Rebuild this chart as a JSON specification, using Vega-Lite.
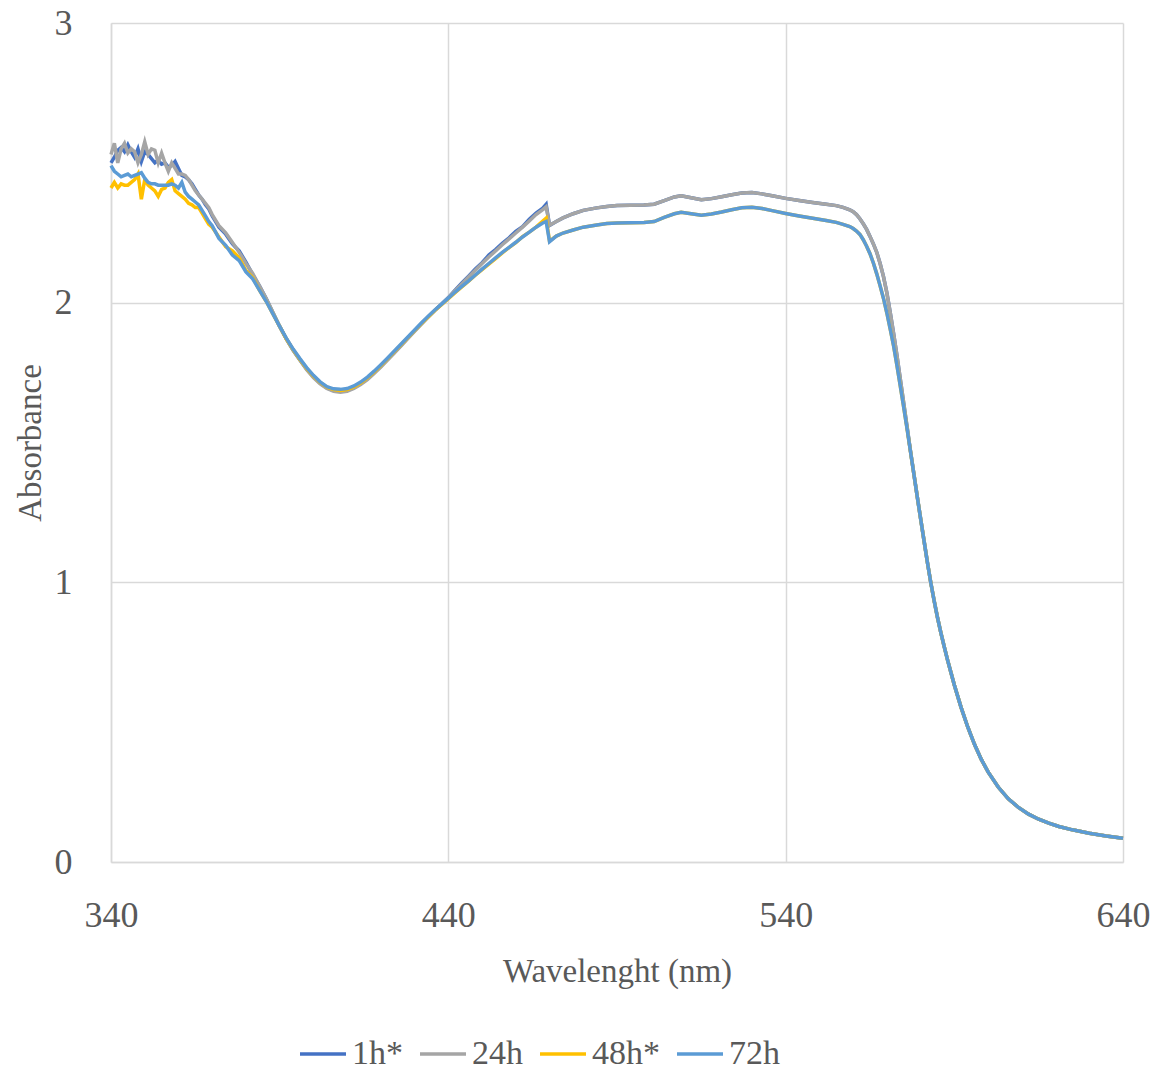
{
 "$schema": "https://vega.github.io/schema/vega-lite/v6.json",
 "width": 1012, "height": 839,
 "autosize": {"type": "none"},
 "padding": {"left": 111, "top": 23, "right": 38, "bottom": 213},
 "background": "white",
 "config": {"view": {"stroke": null}, "font": "Liberation Serif"},
 "data": {"values": [
  {"w":340,"1h*":2.50,"24h":2.53,"48h*":2.41,"72h":2.49},
  {"w":341,"1h*":2.52,"24h":2.57,"48h*":2.43,"72h":2.47},
  {"w":342,"1h*":2.545,"24h":2.50,"48h*":2.41,"72h":2.46},
  {"w":343,"1h*":2.555,"24h":2.55,"48h*":2.425,"72h":2.45},
  {"w":344,"1h*":2.54,"24h":2.57,"48h*":2.42,"72h":2.455},
  {"w":345,"1h*":2.565,"24h":2.535,"48h*":2.42,"72h":2.46},
  {"w":346,"1h*":2.54,"24h":2.55,"48h*":2.43,"72h":2.45},
  {"w":347,"1h*":2.52,"24h":2.54,"48h*":2.44,"72h":2.455},
  {"w":348,"1h*":2.55,"24h":2.50,"48h*":2.46,"72h":2.46},
  {"w":349,"1h*":2.505,"24h":2.53,"48h*":2.37,"72h":2.465},
  {"w":350,"1h*":2.54,"24h":2.575,"48h*":2.44,"72h":2.445},
  {"w":351,"1h*":2.53,"24h":2.53,"48h*":2.42,"72h":2.43},
  {"w":352,"1h*":2.515,"24h":2.55,"48h*":2.41,"72h":2.425},
  {"w":353,"1h*":2.50,"24h":2.545,"48h*":2.40,"72h":2.425},
  {"w":354,"1h*":2.51,"24h":2.50,"48h*":2.38,"72h":2.42},
  {"w":355,"1h*":2.495,"24h":2.535,"48h*":2.405,"72h":2.42},
  {"w":356,"1h*":2.50,"24h":2.50,"48h*":2.41,"72h":2.42},
  {"w":357,"1h*":2.485,"24h":2.47,"48h*":2.43,"72h":2.42},
  {"w":358,"1h*":2.49,"24h":2.50,"48h*":2.44,"72h":2.425},
  {"w":359,"1h*":2.505,"24h":2.48,"48h*":2.40,"72h":2.42},
  {"w":360,"1h*":2.48,"24h":2.46,"48h*":2.39,"72h":2.41},
  {"w":361,"1h*":2.455,"24h":2.46,"48h*":2.38,"72h":2.43},
  {"w":362,"1h*":2.45,"24h":2.455,"48h*":2.37,"72h":2.395},
  {"w":363,"1h*":2.44,"24h":2.44,"48h*":2.355,"72h":2.38},
  {"w":364,"1h*":2.425,"24h":2.42,"48h*":2.35,"72h":2.37},
  {"w":365,"1h*":2.405,"24h":2.40,"48h*":2.34,"72h":2.36},
  {"w":366,"1h*":2.385,"24h":2.385,"48h*":2.34,"72h":2.35},
  {"w":367,"1h*":2.37,"24h":2.37,"48h*":2.32,"72h":2.33},
  {"w":368,"1h*":2.35,"24h":2.355,"48h*":2.30,"72h":2.31},
  {"w":369,"1h*":2.335,"24h":2.34,"48h*":2.28,"72h":2.29},
  {"w":370,"1h*":2.31,"24h":2.315,"48h*":2.27,"72h":2.275},
  {"w":372,"1h*":2.27,"24h":2.275,"48h*":2.235,"72h":2.23},
  {"w":374,"1h*":2.245,"24h":2.25,"48h*":2.20,"72h":2.205},
  {"w":376,"1h*":2.21,"24h":2.215,"48h*":2.185,"72h":2.17},
  {"w":378,"1h*":2.185,"24h":2.18,"48h*":2.16,"72h":2.15},
  {"w":380,"1h*":2.145,"24h":2.14,"48h*":2.115,"72h":2.11},
  {"w":382,"1h*":2.10,"24h":2.105,"48h*":2.09,"72h":2.085},
  {"w":384,"1h*":2.06,"24h":2.06,"48h*":2.045,"72h":2.045},
  {"w":386,"1h*":2.015,"24h":2.015,"48h*":2.005,"72h":2.005},
  {"w":388,"1h*":1.965,"24h":1.965,"48h*":1.96,"72h":1.96},
  {"w":390,"1h*":1.915,"24h":1.915,"48h*":1.915,"72h":1.915},
  {"w":392,"1h*":1.87,"24h":1.87,"48h*":1.87,"72h":1.872},
  {"w":394,"1h*":1.83,"24h":1.83,"48h*":1.832,"72h":1.834},
  {"w":396,"1h*":1.795,"24h":1.795,"48h*":1.797,"72h":1.80},
  {"w":398,"1h*":1.762,"24h":1.76,"48h*":1.765,"72h":1.768},
  {"w":400,"1h*":1.735,"24h":1.732,"48h*":1.738,"72h":1.74},
  {"w":402,"1h*":1.712,"24h":1.71,"48h*":1.715,"72h":1.717},
  {"w":404,"1h*":1.695,"24h":1.693,"48h*":1.698,"72h":1.70},
  {"w":406,"1h*":1.686,"24h":1.683,"48h*":1.689,"72h":1.692},
  {"w":408,"1h*":1.683,"24h":1.68,"48h*":1.686,"72h":1.69},
  {"w":410,"1h*":1.686,"24h":1.683,"48h*":1.689,"72h":1.693},
  {"w":412,"1h*":1.696,"24h":1.693,"48h*":1.699,"72h":1.702},
  {"w":414,"1h*":1.71,"24h":1.707,"48h*":1.713,"72h":1.716},
  {"w":416,"1h*":1.728,"24h":1.725,"48h*":1.731,"72h":1.734},
  {"w":418,"1h*":1.75,"24h":1.747,"48h*":1.752,"72h":1.755},
  {"w":420,"1h*":1.773,"24h":1.77,"48h*":1.775,"72h":1.778},
  {"w":422,"1h*":1.798,"24h":1.795,"48h*":1.80,"72h":1.802},
  {"w":424,"1h*":1.823,"24h":1.82,"48h*":1.825,"72h":1.827},
  {"w":426,"1h*":1.848,"24h":1.846,"48h*":1.85,"72h":1.852},
  {"w":428,"1h*":1.874,"24h":1.872,"48h*":1.875,"72h":1.877},
  {"w":430,"1h*":1.90,"24h":1.898,"48h*":1.90,"72h":1.902},
  {"w":432,"1h*":1.925,"24h":1.923,"48h*":1.925,"72h":1.927},
  {"w":434,"1h*":1.95,"24h":1.948,"48h*":1.949,"72h":1.951},
  {"w":436,"1h*":1.973,"24h":1.972,"48h*":1.972,"72h":1.974},
  {"w":438,"1h*":1.995,"24h":1.994,"48h*":1.993,"72h":1.995},
  {"w":440,"1h*":2.018,"24h":2.017,"48h*":2.014,"72h":2.016},
  {"w":442,"1h*":2.045,"24h":2.043,"48h*":2.036,"72h":2.038},
  {"w":444,"1h*":2.07,"24h":2.067,"48h*":2.056,"72h":2.058},
  {"w":446,"1h*":2.095,"24h":2.092,"48h*":2.077,"72h":2.078},
  {"w":448,"1h*":2.12,"24h":2.116,"48h*":2.098,"72h":2.099},
  {"w":450,"1h*":2.143,"24h":2.14,"48h*":2.118,"72h":2.12},
  {"w":452,"1h*":2.17,"24h":2.163,"48h*":2.138,"72h":2.14},
  {"w":454,"1h*":2.19,"24h":2.185,"48h*":2.157,"72h":2.16},
  {"w":456,"1h*":2.212,"24h":2.207,"48h*":2.178,"72h":2.18},
  {"w":458,"1h*":2.232,"24h":2.228,"48h*":2.197,"72h":2.198},
  {"w":460,"1h*":2.255,"24h":2.249,"48h*":2.215,"72h":2.216},
  {"w":462,"1h*":2.272,"24h":2.27,"48h*":2.236,"72h":2.235},
  {"w":464,"1h*":2.298,"24h":2.292,"48h*":2.252,"72h":2.252},
  {"w":466,"1h*":2.32,"24h":2.315,"48h*":2.27,"72h":2.27},
  {"w":468,"1h*":2.338,"24h":2.333,"48h*":2.292,"72h":2.285},
  {"w":469,"1h*":2.352,"24h":2.343,"48h*":2.302,"72h":2.29},
  {"w":470,"1h*":2.276,"24h":2.277,"48h*":2.22,"72h":2.218},
  {"w":472,"1h*":2.29,"24h":2.29,"48h*":2.238,"72h":2.238},
  {"w":474,"1h*":2.303,"24h":2.303,"48h*":2.249,"72h":2.249},
  {"w":477,"1h*":2.318,"24h":2.318,"48h*":2.26,"72h":2.26},
  {"w":480,"1h*":2.33,"24h":2.33,"48h*":2.27,"72h":2.27},
  {"w":484,"1h*":2.339,"24h":2.339,"48h*":2.278,"72h":2.278},
  {"w":487,"1h*":2.344,"24h":2.344,"48h*":2.283,"72h":2.283},
  {"w":490,"1h*":2.347,"24h":2.347,"48h*":2.285,"72h":2.285},
  {"w":494,"1h*":2.348,"24h":2.348,"48h*":2.286,"72h":2.286},
  {"w":498,"1h*":2.349,"24h":2.349,"48h*":2.287,"72h":2.287},
  {"w":501,"1h*":2.352,"24h":2.352,"48h*":2.29,"72h":2.29},
  {"w":504,"1h*":2.365,"24h":2.365,"48h*":2.305,"72h":2.305},
  {"w":507,"1h*":2.378,"24h":2.378,"48h*":2.318,"72h":2.318},
  {"w":509,"1h*":2.382,"24h":2.382,"48h*":2.323,"72h":2.323},
  {"w":512,"1h*":2.375,"24h":2.375,"48h*":2.318,"72h":2.318},
  {"w":515,"1h*":2.368,"24h":2.368,"48h*":2.313,"72h":2.313},
  {"w":518,"1h*":2.372,"24h":2.372,"48h*":2.317,"72h":2.317},
  {"w":521,"1h*":2.379,"24h":2.379,"48h*":2.324,"72h":2.324},
  {"w":524,"1h*":2.386,"24h":2.386,"48h*":2.332,"72h":2.332},
  {"w":527,"1h*":2.392,"24h":2.392,"48h*":2.339,"72h":2.339},
  {"w":530,"1h*":2.394,"24h":2.394,"48h*":2.341,"72h":2.341},
  {"w":533,"1h*":2.389,"24h":2.389,"48h*":2.337,"72h":2.337},
  {"w":536,"1h*":2.382,"24h":2.382,"48h*":2.329,"72h":2.329},
  {"w":540,"1h*":2.373,"24h":2.373,"48h*":2.319,"72h":2.319},
  {"w":544,"1h*":2.365,"24h":2.365,"48h*":2.31,"72h":2.31},
  {"w":548,"1h*":2.358,"24h":2.358,"48h*":2.302,"72h":2.302},
  {"w":552,"1h*":2.352,"24h":2.352,"48h*":2.294,"72h":2.294},
  {"w":555,"1h*":2.347,"24h":2.347,"48h*":2.287,"72h":2.287},
  {"w":557,"1h*":2.341,"24h":2.341,"48h*":2.28,"72h":2.28},
  {"w":559,"1h*":2.332,"24h":2.332,"48h*":2.272,"72h":2.272},
  {"w":560,"1h*":2.325,"24h":2.325,"48h*":2.265,"72h":2.265},
  {"w":561,"1h*":2.315,"24h":2.315,"48h*":2.256,"72h":2.256},
  {"w":562,"1h*":2.30,"24h":2.30,"48h*":2.244,"72h":2.244},
  {"w":563,"1h*":2.282,"24h":2.282,"48h*":2.225,"72h":2.225},
  {"w":564,"1h*":2.262,"24h":2.262,"48h*":2.202,"72h":2.202},
  {"w":565,"1h*":2.237,"24h":2.237,"48h*":2.175,"72h":2.175},
  {"w":566,"1h*":2.21,"24h":2.21,"48h*":2.142,"72h":2.142},
  {"w":567,"1h*":2.18,"24h":2.18,"48h*":2.103,"72h":2.103},
  {"w":568,"1h*":2.14,"24h":2.14,"48h*":2.06,"72h":2.06},
  {"w":569,"1h*":2.093,"24h":2.093,"48h*":2.015,"72h":2.015},
  {"w":570,"1h*":2.035,"24h":2.035,"48h*":1.963,"72h":1.963},
  {"w":571,"1h*":1.965,"24h":1.965,"48h*":1.905,"72h":1.905},
  {"w":572,"1h*":1.89,"24h":1.89,"48h*":1.845,"72h":1.845},
  {"w":573,"1h*":1.81,"24h":1.81,"48h*":1.775,"72h":1.775},
  {"w":574,"1h*":1.725,"24h":1.725,"48h*":1.70,"72h":1.70},
  {"w":575,"1h*":1.64,"24h":1.64,"48h*":1.625,"72h":1.625},
  {"w":576,"1h*":1.555,"24h":1.555,"48h*":1.548,"72h":1.548},
  {"w":577,"1h*":1.47,"24h":1.47,"48h*":1.468,"72h":1.468},
  {"w":578,"1h*":1.388,"24h":1.388,"48h*":1.387,"72h":1.387},
  {"w":579,"1h*":1.307,"24h":1.307,"48h*":1.307,"72h":1.307},
  {"w":580,"1h*":1.228,"24h":1.228,"48h*":1.228,"72h":1.228},
  {"w":581,"1h*":1.15,"24h":1.15,"48h*":1.15,"72h":1.15},
  {"w":582,"1h*":1.073,"24h":1.073,"48h*":1.073,"72h":1.073},
  {"w":583,"1h*":1.00,"24h":1.00,"48h*":1.00,"72h":1.00},
  {"w":584,"1h*":0.935,"24h":0.935,"48h*":0.935,"72h":0.935},
  {"w":585,"1h*":0.875,"24h":0.875,"48h*":0.875,"72h":0.875},
  {"w":586,"1h*":0.82,"24h":0.82,"48h*":0.82,"72h":0.82},
  {"w":587,"1h*":0.77,"24h":0.77,"48h*":0.77,"72h":0.77},
  {"w":588,"1h*":0.722,"24h":0.722,"48h*":0.722,"72h":0.722},
  {"w":590,"1h*":0.633,"24h":0.633,"48h*":0.633,"72h":0.633},
  {"w":592,"1h*":0.553,"24h":0.553,"48h*":0.553,"72h":0.553},
  {"w":594,"1h*":0.482,"24h":0.482,"48h*":0.482,"72h":0.482},
  {"w":596,"1h*":0.42,"24h":0.42,"48h*":0.42,"72h":0.42},
  {"w":598,"1h*":0.367,"24h":0.367,"48h*":0.367,"72h":0.367},
  {"w":600,"1h*":0.322,"24h":0.322,"48h*":0.322,"72h":0.322},
  {"w":603,"1h*":0.268,"24h":0.268,"48h*":0.268,"72h":0.268},
  {"w":606,"1h*":0.226,"24h":0.226,"48h*":0.226,"72h":0.226},
  {"w":609,"1h*":0.195,"24h":0.195,"48h*":0.195,"72h":0.195},
  {"w":612,"1h*":0.171,"24h":0.171,"48h*":0.171,"72h":0.171},
  {"w":615,"1h*":0.153,"24h":0.153,"48h*":0.153,"72h":0.153},
  {"w":618,"1h*":0.139,"24h":0.139,"48h*":0.139,"72h":0.139},
  {"w":621,"1h*":0.127,"24h":0.127,"48h*":0.127,"72h":0.127},
  {"w":625,"1h*":0.115,"24h":0.115,"48h*":0.115,"72h":0.115},
  {"w":630,"1h*":0.103,"24h":0.103,"48h*":0.103,"72h":0.103},
  {"w":635,"1h*":0.093,"24h":0.093,"48h*":0.093,"72h":0.093},
  {"w":640,"1h*":0.085,"24h":0.085,"48h*":0.085,"72h":0.085}
 ]},
 "transform": [{"fold": ["1h*", "24h", "48h*", "72h"], "as": ["series", "abs"]}],
 "mark": {"type": "line", "strokeWidth": 3.5},
 "encoding": {
  "x": {"field": "w", "type": "quantitative",
   "scale": {"domain": [340, 640], "nice": false, "zero": false},
   "axis": {"values": [340, 440, 540, 640], "title": "Wavelenght (nm)",
    "grid": true, "gridColor": "#d9d9d9", "gridWidth": 1.5,
    "domainColor": "#d9d9d9", "domainWidth": 1.5, "ticks": false,
    "labelFontSize": 36, "labelColor": "#595959", "labelPadding": 36,
    "labelFlush": false, "labelOverlap": false,
    "titleFontSize": 33, "titleColor": "#595959", "titleFontWeight": "normal",
    "titleY": 119, "titleBaseline": "alphabetic"}},
  "y": {"field": "abs", "type": "quantitative",
   "scale": {"domain": [0, 3], "nice": false},
   "axis": {"values": [0, 1, 2, 3], "title": "Absorbance",
    "grid": true, "gridColor": "#d9d9d9", "gridWidth": 1.5,
    "domainColor": "#d9d9d9", "domainWidth": 1.5, "ticks": false,
    "labelFontSize": 36, "labelColor": "#595959", "labelPadding": 39,
    "labelFlush": false, "labelOverlap": false,
    "titleFontSize": 33, "titleColor": "#595959", "titleFontWeight": "normal",
    "titleX": -71, "titleY": 419.5, "titleBaseline": "alphabetic"}},
  "color": {"field": "series", "type": "nominal",
   "scale": {"domain": ["1h*", "24h", "48h*", "72h"], "range": ["#4472C4", "#A5A5A5", "#FFC000", "#5B9BD5"]},
   "legend": {"orient": "none", "legendX": 187, "legendY": 1006, "direction": "horizontal",
    "title": null, "symbolType": "stroke", "symbolSize": 2116, "symbolStrokeWidth": 3.5,
    "labelFontSize": 34, "labelColor": "#595959", "labelOffset": 4, "columnPadding": 10}}
 }
}
